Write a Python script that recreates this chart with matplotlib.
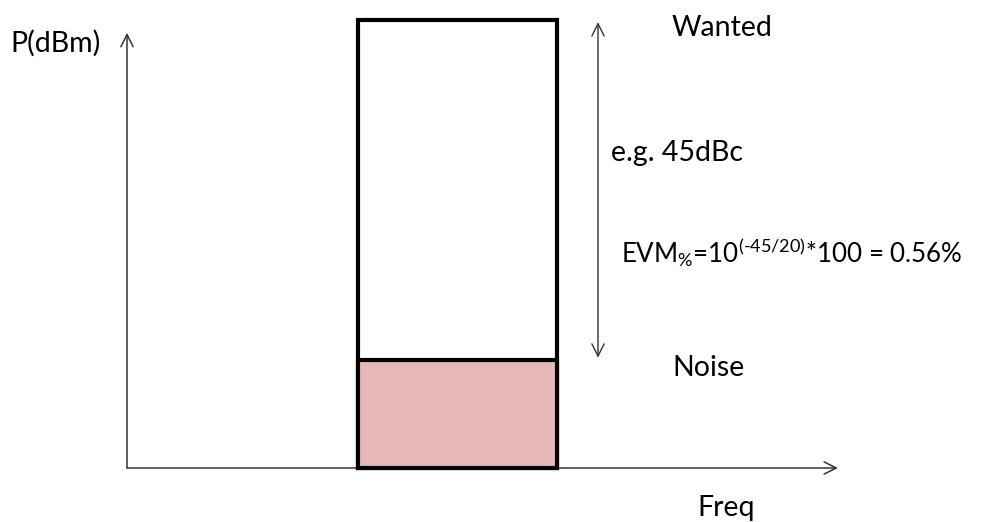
import matplotlib.pyplot as plt

plt.rcParams['font.family'] = ['Lato', 'DejaVu Sans']
plt.rcParams['mathtext.fontset'] = 'custom'
plt.rcParams['mathtext.rm'] = 'Lato'
plt.rcParams['mathtext.it'] = 'Lato'

# power levels (dB above the floor line) and the occupied band (freq units)
levels = {"Noise": 14.3, "Wanted": 59.3}
band = [23.1, 43.0]
dbc = 45
evm_pct = 10 ** (-dbc / 20) * 100

fig = plt.figure(figsize=(9.89, 5.22), dpi=100)
ax = fig.add_axes([0, 0, 1, 1])
ax.set_xlim(-12.7, 86.2)
ax.set_ylim(-7.15, 61.94)
ax.axis("off")

width = band[1] - band[0]
center = (band[0] + band[1]) / 2
ax.bar(center, levels["Wanted"], width, color="white", edgecolor="black",
       linewidth=3, zorder=2)
ax.bar(center, levels["Noise"], width, color="#e6b8b7", edgecolor="black",
       linewidth=3, zorder=3)

axis_col = "#333333"
ax.annotate("", xy=(0, 57.6), xytext=(0, 0),
            arrowprops=dict(arrowstyle="->", lw=1.1, color=axis_col,
                            mutation_scale=22, shrinkA=0, shrinkB=0), zorder=1)
ax.annotate("", xy=(71.1, 0), xytext=(0, 0),
            arrowprops=dict(arrowstyle="->", lw=1.1, color=axis_col,
                            mutation_scale=22, shrinkA=0, shrinkB=0), zorder=1)

# level difference arrow
ax.annotate("", xy=(47.1, levels["Wanted"] - 0.3), xytext=(47.1, levels["Noise"] + 0.3),
            arrowprops=dict(arrowstyle="<->", lw=1.0, color=axis_col,
                            mutation_scale=22, shrinkA=0, shrinkB=0))

fs = 20.5
evm_label = ("EVM$_{\\%}$=10$^{(\u2010" + str(dbc) + "/20)}$*100 = "
             + f"{evm_pct:.2f}%")
fig.text(10 / 989, 1 - 43 / 522, "P(dBm)", fontsize=fs, va="center", ha="left")
fig.text(672 / 989, 1 - 28 / 522, "Wanted", fontsize=fs, va="center", ha="left")
fig.text(611 / 989, 1 - 153 / 522, f"e.g. {dbc}dBc", fontsize=fs, va="center", ha="left")
fig.text(621 / 989, 1 - 252 / 522, evm_label, fontsize=18.6, va="center", ha="left")
fig.text(672 / 989, 1 - 368 / 522, "Noise", fontsize=fs, va="center", ha="left")
fig.text(697 / 989, 1 - 508 / 522, "Freq", fontsize=fs, va="center", ha="left")

fig.savefig("out.png", dpi=100)
